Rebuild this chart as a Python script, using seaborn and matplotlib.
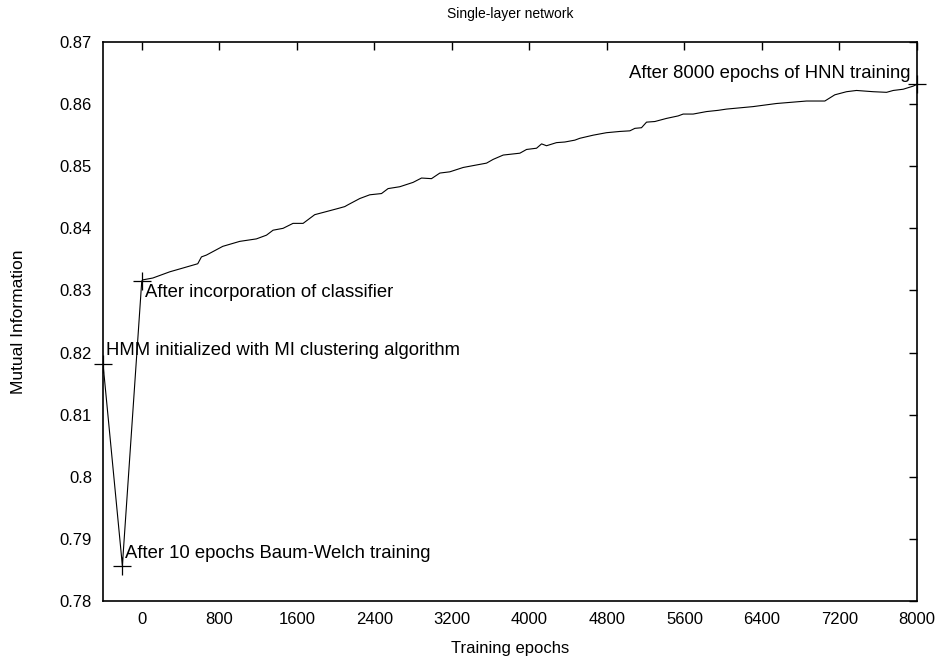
import matplotlib
matplotlib.use("Agg")
import matplotlib.pyplot as plt
import seaborn as sns
import pandas as pd
from matplotlib.ticker import FuncFormatter

# puntos de anotacion (HMM, Baum-Welch, clasificador, final)
hito_epocas = [-400, -200, 0, 8000]
hito_mi = [0.8182, 0.7857, 0.8315, 0.8632]
hito_textos = [
    "HMM initialized with MI clustering algorithm",
    "After 10 epochs Baum-Welch training",
    "After incorporation of classifier",
    "After 8000 epochs of HNN training",
]

# curva de entrenamiento HNN
epocas = [-400, -200, 0, 10, 114, 289, 423, 578, 616, 668, 836, 1011, 1183, 1287, 1355,
          1458, 1561, 1665, 1785, 1906, 2026, 2095, 2129, 2250, 2353, 2474, 2542,
          2663, 2800, 2887, 2990, 3076, 3179, 3317, 3454, 3558, 3626, 3730, 3902,
          3971, 4074, 4126, 4177, 4280, 4366, 4469, 4521, 4658, 4796, 4934, 5037,
          5089, 5157, 5209, 5295, 5415, 5535, 5587, 5690, 5828, 5948, 6034, 6308,
          6550, 6860, 7049, 7152, 7273, 7376, 7548, 7686, 7755, 7858, 7961, 8000]
mi = [0.8182, 0.7857, 0.8315, 0.8317, 0.8320, 0.8330, 0.8336, 0.8343, 0.8354, 0.8357,
      0.8371, 0.8379, 0.8383, 0.8389, 0.8397, 0.8400, 0.8408, 0.8408, 0.8422,
      0.8427, 0.8432, 0.8435, 0.8438, 0.8448, 0.8454, 0.8456, 0.8464, 0.8467,
      0.8474, 0.8481, 0.8480, 0.8489, 0.8491, 0.8498, 0.8502, 0.8505, 0.8511,
      0.8518, 0.8521, 0.8527, 0.8529, 0.8536, 0.8533, 0.8538, 0.8539, 0.8542,
      0.8545, 0.8550, 0.8554, 0.8556, 0.8557, 0.8561, 0.8562, 0.8571, 0.8572,
      0.8577, 0.8581, 0.8584, 0.8584, 0.8588, 0.8590, 0.8592, 0.8596, 0.8601,
      0.8605, 0.8605, 0.8615, 0.8620, 0.8622, 0.8620, 0.8619, 0.8622, 0.8624,
      0.8629, 0.8632]

x_ticks = [0, 800, 1600, 2400, 3200, 4000, 4800, 5600, 6400, 7200, 8000]
y_ticks = [0.78, 0.79, 0.80, 0.81, 0.82, 0.83, 0.84, 0.85, 0.86, 0.87]

sns.set_style("white")
plt.rcParams['font.family'] = ['Liberation Sans', 'DejaVu Sans']
plt.rcParams['text.color'] = 'black'
plt.rcParams['axes.labelcolor'] = 'black'
plt.rcParams['xtick.color'] = 'black'
plt.rcParams['ytick.color'] = 'black'

df = pd.DataFrame({"epoca": epocas, "mi": mi})
hitos = pd.DataFrame({"epoca": hito_epocas, "mi": hito_mi})

fig = plt.figure(figsize=(9.38, 6.67), dpi=100)
ax = fig.add_axes([0.1098, 0.099, 0.8678, 0.838])

sns.lineplot(data=df, x="epoca", y="mi", ax=ax, sort=False, estimator=None,
             color="black", linewidth=0.8)
sns.scatterplot(data=hitos, x="epoca", y="mi", ax=ax, marker="+", s=150,
                color="black", linewidth=0.9, clip_on=False, zorder=5)

# etiquetas de los hitos
ax.text(-365, 0.8203, hito_textos[0], fontsize=13.3, va="center", ha="left")
ax.text(-175, 0.7877, hito_textos[1], fontsize=13.3, va="center", ha="left")
ax.text(30, 0.8296, hito_textos[2], fontsize=13.3, va="center", ha="left")
ax.text(7930, 0.8650, hito_textos[3], fontsize=13.3, va="center", ha="right")

ax.set_xlim(-400, 8000)
ax.set_ylim(0.78, 0.87)
ax.set_xticks(x_ticks)
ax.set_yticks(y_ticks)
ax.yaxis.set_major_formatter(FuncFormatter(lambda v, p: "%g" % round(v, 2)))
ax.tick_params(direction="in", length=6, width=1, top=True, right=True,
               labelsize=12, pad=8)
for s in ax.spines.values():
    s.set_linewidth(1.2)
    s.set_color("black")

ax.set_title("Single-layer network", fontsize=10, pad=17)
ax.set_xlabel("Training epochs", fontsize=12, labelpad=10)
ax.set_ylabel("Mutual Information", fontsize=12.5, labelpad=24)

fig.savefig("out.png", dpi=100)
